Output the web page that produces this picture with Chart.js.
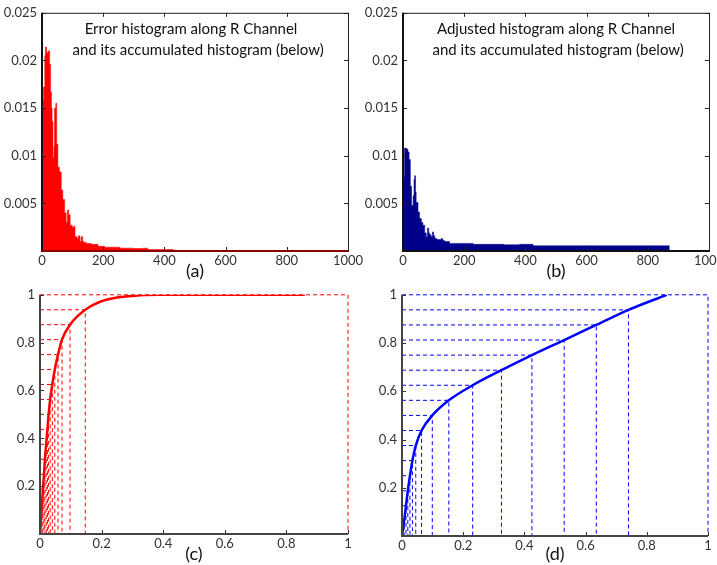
<!DOCTYPE html>
<html>
<head>
<meta charset="utf-8">
<script src="https://cdn.jsdelivr.net/npm/chart.js@4.4.1/dist/chart.umd.min.js"></script>
<style>
html, body { margin: 0; background: #fff; overflow: hidden; width: 717px; height: 565px; }
#wrap { position: relative; width: 717px; height: 565px; overflow: hidden; }
canvas { position: absolute; }
</style>
</head>
<body>
<div id="wrap">
  <canvas id="ca" width="372" height="282" style="left:0;top:0"></canvas>
  <canvas id="cb" width="380" height="282" style="left:358px;top:0"></canvas>
  <canvas id="cc" width="372" height="283" style="left:0;top:282px"></canvas>
  <canvas id="cd" width="380" height="283" style="left:358px;top:282px"></canvas>
</div>
<script>
// (a) error histogram along R channel (bin start, value)
var errBins = [0, 5, 9, 11, 15, 20, 25, 28, 31, 33, 36, 39, 41, 45, 48, 52, 57, 63, 68, 74, 79, 83, 87, 92, 99, 104, 108, 115, 119, 124, 128, 133, 137, 145, 161, 183, 205, 227, 255, 270, 300, 330, 345, 400, 428, 436, 1000];
var errHist = [0.0158, 0.0172, 0.0205, 0.0214, 0.0208, 0.0210, 0.0196, 0.0167, 0.0150, 0.0136, 0.0098, 0.0110, 0.0150, 0.0155, 0.0112, 0.0088, 0.0083, 0.0064, 0.0054, 0.0040, 0.0030, 0.0043, 0.0038, 0.0027, 0.0025, 0.0026, 0.0015, 0.0013, 0.0016, 0.0010, 0.0015, 0.0010, 0.0009, 0.0008, 0.0007, 0.0005, 0.0004, 0.0004, 0.0003, 0.0003, 0.00025, 0.0003, 0.00015, 0.00015, 0.0001, 0, 0];

// (b) adjusted histogram along R channel
var adjBins = [0, 5, 11, 16, 20, 24, 28, 33, 36, 38, 41, 43, 49, 54, 60, 65, 71, 76, 80, 84, 87, 92, 96, 100, 104, 111, 119, 125, 130, 136, 152, 185, 229, 272, 330, 380, 425, 870, 1000];
var adjHist = [0.0078, 0.0108, 0.0107, 0.0104, 0.0096, 0.0068, 0.0048, 0.0058, 0.0075, 0.0079, 0.0062, 0.0051, 0.0041, 0.0034, 0.0030, 0.0027, 0.0019, 0.0015, 0.0024, 0.0019, 0.0017, 0.0015, 0.0020, 0.0016, 0.0013, 0.0012, 0.0012, 0.0013, 0.0011, 0.0010, 0.0008, 0.0008, 0.0007, 0.0007, 0.00065, 0.0007, 0.00055, 0, 0];

// accumulated histograms and the 16 equal levels
var levels = [0.0625, 0.125, 0.1875, 0.25, 0.3125, 0.375, 0.4375, 0.5, 0.5625, 0.625, 0.6875, 0.75, 0.8125, 0.875, 0.9375, 1];

var errCumX = [0, 0.003, 0.0065, 0.0095, 0.013, 0.016, 0.02, 0.024, 0.028, 0.033, 0.04, 0.048, 0.0585, 0.0715, 0.0975, 0.147, 0.195, 0.25, 0.325, 0.39, 0.86];
var errCumY = [0, 0.0625, 0.125, 0.1875, 0.25, 0.3125, 0.375, 0.4375, 0.5, 0.5625, 0.625, 0.6875, 0.75, 0.8125, 0.875, 0.9375, 0.971, 0.989, 0.998, 1, 1];
var errCuts = [0.003, 0.0065, 0.0095, 0.013, 0.016, 0.02, 0.024, 0.028, 0.033, 0.04, 0.048, 0.0585, 0.0715, 0.0975, 0.147, 1];

var adjCumX = [0, 0.007, 0.013, 0.019, 0.026, 0.034, 0.045, 0.064, 0.099, 0.153, 0.231, 0.325, 0.4245, 0.53, 0.635, 0.74, 0.865];
var adjCumY = [0, 0.0625, 0.125, 0.1875, 0.25, 0.3125, 0.375, 0.4375, 0.5, 0.5625, 0.625, 0.6875, 0.75, 0.8125, 0.875, 0.9375, 1];
var adjCuts = [0.007, 0.013, 0.019, 0.026, 0.034, 0.045, 0.064, 0.099, 0.153, 0.231, 0.325, 0.4245, 0.53, 0.635, 0.74, 1];

Chart.defaults.font.family = 'Lato, "Liberation Sans", sans-serif';

function pairs(xs, ys) {
  return xs.map(function (x, i) { return { x: x, y: ys[i] }; });
}

// inward tick marks + axes, matlab style
var frame = {
  id: 'frame',
  afterDatasetsDraw: function (chart, args, o) {
    var ctx = chart.ctx, a = chart.chartArea;
    var xs = chart.scales.x, ys = chart.scales.y;
    ctx.save();
    ctx.lineWidth = 1;
    ctx.strokeStyle = o.tickColor;
    ctx.beginPath();
    xs.ticks.forEach(function (t) {
      var px = Math.round(xs.getPixelForValue(t.value)) + 0.5;
      ctx.moveTo(px, a.bottom); ctx.lineTo(px, a.bottom - 4);
      if (o.box) { ctx.moveTo(px, a.top); ctx.lineTo(px, a.top + 4); }
    });
    ys.ticks.forEach(function (t) {
      var py = Math.round(ys.getPixelForValue(t.value)) + 0.5;
      ctx.moveTo(a.left, py); ctx.lineTo(a.left + 4, py);
      if (o.box) { ctx.moveTo(a.right, py); ctx.lineTo(a.right - 4, py); }
    });
    ctx.stroke();
    if (o.box) ctx.strokeRect(a.left + 0.5, a.top + 0.5, a.width, a.height);
    ctx.lineWidth = 2;
    ctx.strokeStyle = o.axisColor;
    ctx.beginPath(); ctx.moveTo(a.left, a.top); ctx.lineTo(a.left, a.bottom + 1); ctx.stroke();
    ctx.strokeStyle = o.baseColor || o.axisColor;
    ctx.beginPath(); ctx.moveTo(a.left, a.bottom); ctx.lineTo(a.right, a.bottom); ctx.stroke();
    ctx.restore();
  }
};

// text written inside the plot
var caption = {
  id: 'caption',
  afterDraw: function (chart, args, o) {
    if (!o.lines) return;
    var ctx = chart.ctx, a = chart.chartArea;
    ctx.save();
    ctx.font = o.font;
    ctx.fillStyle = '#111';
    ctx.textAlign = 'center';
    ctx.textBaseline = 'middle';
    o.lines.forEach(function (s, i) {
      ctx.fillText(s, a.left + o.at[i][0] * a.width, a.top + o.at[i][1] * a.height);
    });
    ctx.restore();
  }
};

function fmt(v) {
  return String(+v.toFixed(3));
}

function panel(id, c) {
  return new Chart(document.getElementById(id), {
    type: 'line',
    data: { datasets: c.datasets },
    options: {
      responsive: false,
      animation: false,
      events: [],
      layout: { padding: { top: c.pad[0], right: c.pad[1], bottom: 0, left: 0 } },
      plugins: {
        legend: { display: false },
        tooltip: { enabled: false },
        frame: c.frame,
        caption: c.caption || {}
      },
      scales: {
        x: {
          type: 'linear', min: c.x[0], max: c.x[1],
          grid: { display: false, drawTicks: false },
          border: { display: false },
          ticks: { stepSize: c.x[2], padding: 2, color: '#333', font: { size: 13 }, maxRotation: 0, autoSkip: false, callback: fmt },
          title: { display: true, text: c.label, padding: 0, color: '#111', font: { size: 18 } },
          afterFit: function (s) { s.height = c.xH; }
        },
        y: {
          type: 'linear', min: c.y[0], max: c.y[1],
          grid: { display: false, drawTicks: false },
          border: { display: false },
          ticks: { stepSize: c.y[2], padding: 5, color: '#333', font: { size: 13 }, autoSkip: false,
            callback: function (v) { return v === 0 ? '' : fmt(v); } },
          afterFit: function (s) { s.width = c.yW; }
        }
      }
    },
    plugins: [frame, caption]
  });
}

function histSet(xs, ys, color) {
  return {
    data: pairs(xs, ys), stepped: true, fill: 'origin',
    backgroundColor: color, borderColor: color, borderWidth: 0.5, pointRadius: 0
  };
}

function curveSets(cx, cy, cuts, color, guideColors) {
  var sets = [{
    data: pairs(cx, cy), borderColor: color, borderWidth: 2.5, pointRadius: 0,
    fill: false, tension: 0.3, cubicInterpolationMode: 'monotone'
  }];
  levels.forEach(function (lv, i) {
    sets.push({
      data: [{ x: 0, y: lv }, { x: cuts[i], y: lv }, { x: cuts[i], y: 0 }],
      borderColor: guideColors[i] || color, borderWidth: 1, borderDash: [4, 3],
      pointRadius: 0, fill: false, clip: 4
    });
  });
  return sets;
}

panel('ca', {
  datasets: [histSet(errBins, errHist, '#ff0000')],
  x: [0, 1000, 200], y: [0, 0.025, 0.005],
  yW: 42, xH: 31, pad: [9, 24], label: '(a)',
  frame: { box: true, tickColor: '#222', axisColor: '#111', baseColor: '#8b0000' },
  caption: { font: '15px Lato', lines: ['Error histogram along R Channel', 'and its accumulated histogram (below)'], at: [[0.487, 0.07], [0.51, 0.157]] }
});

panel('cb', {
  datasets: [histSet(adjBins, adjHist, '#00008b')],
  x: [0, 1000, 200], y: [0, 0.025, 0.005],
  yW: 45, xH: 31, pad: [9, 29], label: '(b)',
  frame: { box: true, tickColor: '#222', axisColor: '#111' },
  caption: { font: '15px Lato', lines: ['Adjusted histogram along R Channel', 'and its accumulated histogram (below)'], at: [[0.50, 0.07], [0.507, 0.155]] }
});

panel('cc', {
  datasets: curveSets(errCumX, errCumY, errCuts, '#ff0000', []),
  x: [0, 1, 0.2], y: [0, 1, 0.2],
  yW: 40, xH: 31, pad: [10, 24], label: '(c)',
  frame: { box: false, tickColor: '#333', axisColor: '#444' }
});

panel('cd', {
  datasets: curveSets(adjCumX, adjCumY, adjCuts, '#0000ff', []),
  x: [0, 1, 0.2], y: [0, 1, 0.2],
  yW: 44, xH: 29, pad: [12, 30], label: '(d)',
  frame: { box: false, tickColor: '#333', axisColor: '#444' }
});
</script>
</body>
</html>
